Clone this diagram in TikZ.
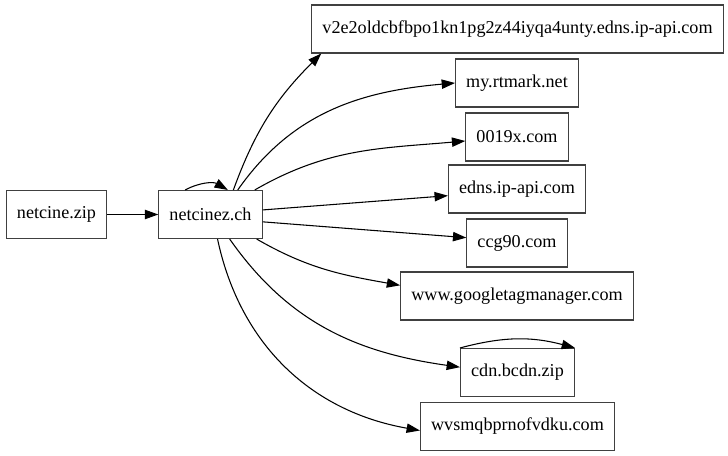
\documentclass[tikz,border=0pt]{standalone}
\usepackage{fontspec}
\setmainfont{Liberation Serif}
\usetikzlibrary{arrows.meta}

\tikzset{
  host/.style={draw=black!75, rectangle, minimum height=36pt, inner xsep=8pt,
    font=\fontsize{13.6}{16}\selectfont},
  >={Triangle[length=10pt,width=7pt]},
}

\begin{document}
\begin{tikzpicture}[x=0.75pt,y=-0.75pt,line width=0.8pt]
    \useasboundingbox (0,0) rectangle (728,456);

    \node[host] (zip) at (56.5,214.5) {netcine.zip};
    \node[host] (nz) at (210.5,214.5) {netcinez.ch};
    \node[host] (v2) at (517.5,29) {v2e2oldcbfbpo1kn1pg2z44iyqa4unty.edns.ip-api.com};
    \node[host] (rt) at (517,83) {my.rtmark.net};
    \node[host] (x0) at (517,137) {0019x.com};
    \node[host] (ed) at (517,189) {edns.ip-api.com};
    \node[host] (cc) at (517,243) {ccg90.com};
    \node[host] (gt) at (517,296) {www.googletagmanager.com};
    \node[host] (cd) at (517.5,372.5) {cdn.bcdn.zip};
    \node[host] (wv) at (517.5,426.5) {wvsmqbprnofvdku.com};

    \draw[->] (zip) -- (nz);
    \draw[->] ([xshift=-19pt]nz.north) to[out=28,in=150] ([xshift=13pt]nz.north);
    \draw[->] (nz.47) to[out=70,in=225] ([xshift=7.5pt]v2.south west);
    \draw[->] (nz.42) to[out=55,in=185] (rt.west);
    \draw[->] (nz.29) to[out=30,in=185] ([yshift=-3pt]x0.west);
    \draw[->] (nz.5) -- ([yshift=-5pt]ed.west);
    \draw[->] (nz.-8) -- ([yshift=4pt]cc.west);
    \draw[->] (nz.-28) to[out=-30,in=170] ([yshift=8pt]gt.west);
    \draw[->] (nz.-52) to[out=-55,in=172] ([yshift=4pt]cd.west);
    \draw[->] (nz.-74) to[out=-78,in=170] ([yshift=-3pt]wv.west);
    \draw[->] (cd.north west) to[out=15,in=165] (cd.north east);
\end{tikzpicture}
\end{document}
